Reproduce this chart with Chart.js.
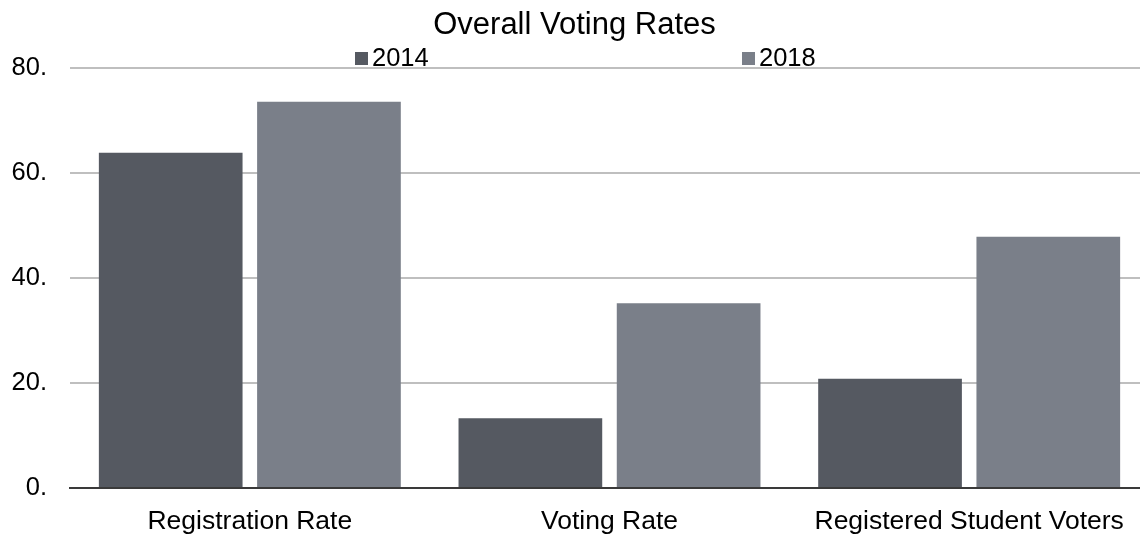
<!DOCTYPE html>
<html>
<head>
<meta charset="utf-8">
<script src="https://cdn.jsdelivr.net/npm/chart.js@4/dist/chart.umd.min.js"></script>
<style>
  html, body { margin: 0; padding: 0; background: #ffffff; overflow: hidden; }
  #wrap { position: relative; width: 1149px; height: 535px; }
</style>
</head>
<body>
<div id="wrap"><canvas id="c"></canvas></div>
<script>
const titleText = 'Overall Voting Rates';
const categories = ['Registration Rate', 'Voting Rate', 'Registered Student Voters'];
const seriesNames = ['2014', '2018'];
const values2014 = [63.9, 13.3, 20.8];
const values2018 = [73.6, 35.2, 47.9];
const yTicks = [0, 20, 40, 60, 80];

const colors = ['#555961', '#7a7f89'];
const FONT = "'Liberation Sans', Arial, sans-serif";

const customLegend = {
  id: 'customLegend',
  afterDraw(chart) {
    const ctx = chart.ctx;
    const pos = [355, 742];
    ctx.save();
    ctx.font = '25.5px ' + FONT;
    ctx.textBaseline = 'alphabetic';
    ctx.textAlign = 'left';
    chart.data.datasets.forEach((ds, i) => {
      ctx.fillStyle = ds.backgroundColor;
      ctx.fillRect(pos[i], 52, 13, 13);
      ctx.fillStyle = '#000000';
      ctx.fillText(ds.label, pos[i] + 17, 66);
    });
    ctx.restore();
  }
};

new Chart(document.getElementById('c'), {
  type: 'bar',
  data: {
    labels: categories,
    datasets: [
      { label: seriesNames[0], data: values2014, backgroundColor: colors[0] },
      { label: seriesNames[1], data: values2018, backgroundColor: colors[1] }
    ]
  },
  options: {
    responsive: true,
    maintainAspectRatio: false,
    animation: false,
    categoryPercentage: 0.88,
    barPercentage: 0.908,
    layout: { padding: { left: 0, right: 0, top: 0, bottom: 0 } },
    plugins: {
      legend: { display: false },
      tooltip: { enabled: false },
      title: {
        display: true,
        text: titleText,
        color: '#000000',
        font: { family: FONT, size: 31, weight: 'normal' },
        padding: { top: 7, bottom: 24 }
      }
    },
    scales: {
      x: {
        grid: { display: false, drawTicks: false },
        border: { display: true, color: '#3a3a3a', width: 2 },
        ticks: { color: '#000000', font: { family: FONT, size: 26.5 }, padding: 18, maxRotation: 0, autoSkip: false },
        afterFit(s) { s.height = 47; }
      },
      y: {
        min: 0, max: 80,
        afterBuildTicks(s) { s.ticks = yTicks.map(v => ({ value: v })); },
        grid: {
          drawTicks: false,
          color: ctx => ctx.tick && ctx.tick.value === 0 ? '#3a3a3a' : '#bfbfbf',
          lineWidth: 2
        },
        border: { display: false },
        ticks: {
          color: '#000000',
          font: { family: FONT, size: 25.5 },
          padding: 23,
          callback: v => v + '.'
        },
        afterFit(s) { s.width = 70; }
      }
    }
  },
  plugins: [customLegend]
});
</script>
</body>
</html>
